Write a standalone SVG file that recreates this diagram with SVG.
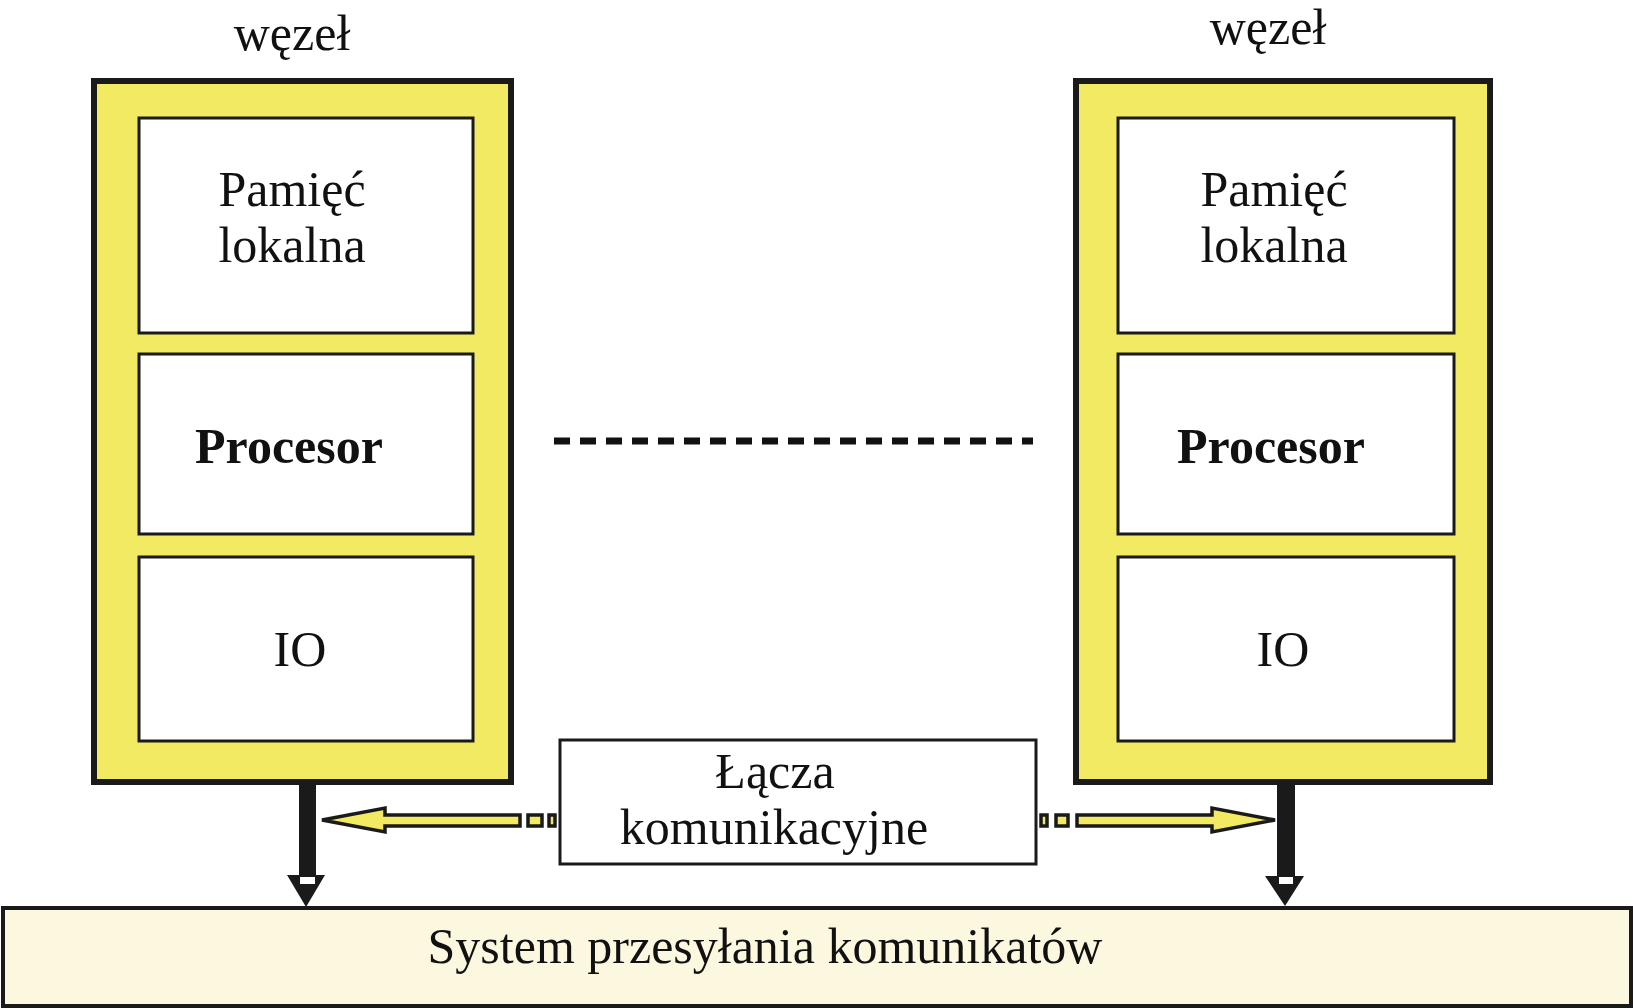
<svg xmlns="http://www.w3.org/2000/svg" width="1633" height="1008" viewBox="0 0 1633 1008">
<style>
.t{font-family:"Liberation Serif",serif;font-size:50px;fill:#111;text-anchor:middle}
.b{font-weight:bold}
.outer{fill:#f2ea62;stroke:#1a1a1a;stroke-width:6}
.inner{fill:#fff;stroke:#1a1a1a;stroke-width:3}
.ya{fill:#f2ea62;stroke:#1a1a1a;stroke-width:3.5;stroke-linejoin:miter}
</style>
<rect width="1633" height="1008" fill="#fff"/>
<g id="node1">
<text class="t" x="292" y="50">węzeł</text>
<rect class="outer" x="94" y="81" width="417" height="701"/>
<rect class="inner" x="139" y="118" width="334" height="215"/>
<rect class="inner" x="139" y="354" width="334" height="180"/>
<rect class="inner" x="139" y="557" width="334" height="184"/>
<text class="t" x="292" y="206">Pamięć</text>
<text class="t" x="292" y="262">lokalna</text>
<text class="t b" x="289" y="463">Procesor</text>
<text class="t" x="300" y="666">IO</text>
</g>
<g id="node2">
<text class="t" x="1268" y="44">węzeł</text>
<rect class="outer" x="1076" y="81" width="414" height="701"/>
<rect class="inner" x="1118" y="118" width="336" height="215"/>
<rect class="inner" x="1118" y="354" width="336" height="180"/>
<rect class="inner" x="1118" y="557" width="336" height="184"/>
<text class="t" x="1274" y="206">Pamięć</text>
<text class="t" x="1274" y="262">lokalna</text>
<text class="t b" x="1271" y="463">Procesor</text>
<text class="t" x="1283" y="666">IO</text>
</g>
<g id="links">
<rect x="560" y="740" width="476" height="124" fill="#fff" stroke="#1a1a1a" stroke-width="3"/>
<text class="t" x="775" y="788">Łącza</text>
<text class="t" x="774" y="844">komunikacyjne</text>
</g>
<g id="bus">
<rect x="3" y="908" width="1628" height="98" fill="#fcf8e0" stroke="#1a1a1a" stroke-width="4"/>
<text class="t" x="765" y="963">System przesyłania komunikatów</text>
</g>
<g id="connectors">
<line x1="554" y1="441" x2="1033" y2="441" stroke="#111" stroke-width="7" stroke-dasharray="16 10"/>
<rect x="299" y="782" width="17" height="96" fill="#1a1a1a"/>
<polygon points="287,875 325,875 306,907" fill="#1a1a1a"/>
<rect x="300" y="877" width="15" height="7" fill="#fff"/>
<rect x="1277" y="782" width="18" height="96" fill="#1a1a1a"/>
<polygon points="1265,876 1304,876 1285,906" fill="#1a1a1a"/>
<rect x="1279" y="877" width="14" height="7" fill="#fff"/>
<polygon class="ya" points="520,815 385,815 385,808 322,820 385,832 385,826 520,826"/>
<rect class="ya" x="528" y="815" width="14" height="11"/>
<rect class="ya" x="549" y="815" width="6" height="11"/>
<polygon class="ya" points="1077,815 1212,815 1212,808 1275,820 1212,832 1212,826 1077,826"/>
<rect class="ya" x="1056" y="815" width="12" height="11"/>
<rect class="ya" x="1041" y="815" width="6" height="11"/>
</g>
</svg>
